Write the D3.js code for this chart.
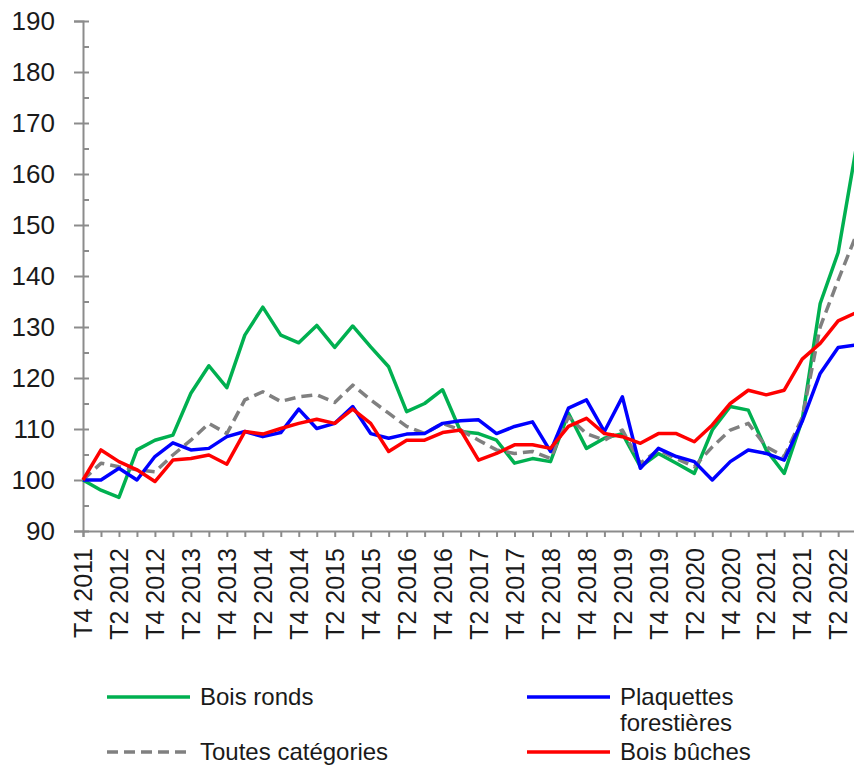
<!DOCTYPE html>
<html>
<head>
<meta charset="utf-8">
<script src="https://cdn.jsdelivr.net/npm/d3@7"></script>
<style>
  body { margin: 0; background: #fff; }
  text { font-family: "Liberation Sans", Arial, sans-serif; fill: #1a1a1a; }
</style>
</head>
<body>
<svg id="chart"></svg>
<script>
// quarters from T4 2011 to T3 2022
let quarters = ["T4 2011",
  "T1 2012", "T2 2012", "T3 2012", "T4 2012",
  "T1 2013", "T2 2013", "T3 2013", "T4 2013",
  "T1 2014", "T2 2014", "T3 2014", "T4 2014",
  "T1 2015", "T2 2015", "T3 2015", "T4 2015",
  "T1 2016", "T2 2016", "T3 2016", "T4 2016",
  "T1 2017", "T2 2017", "T3 2017", "T4 2017",
  "T1 2018", "T2 2018", "T3 2018", "T4 2018",
  "T1 2019", "T2 2019", "T3 2019", "T4 2019",
  "T1 2020", "T2 2020", "T3 2020", "T4 2020",
  "T1 2021", "T2 2021", "T3 2021", "T4 2021",
  "T1 2022", "T2 2022", "T3 2022"];

let boisRonds = [100, 98, 96.6, 105.9, 107.8, 108.8, 117, 122.4, 118.1, 128.4, 133.9, 128.4, 126.9,
  130.3, 126, 130.2, 126.1, 122.2, 113.4, 115, 117.7, 109.5, 109.1, 107.8, 103.3, 104.2, 103.6,
  113.1, 106.2, 108.2, 109.1, 102.6, 105.2, 103.3, 101.3, 109.8, 114.4, 113.7, 105.9, 101.3,
  111.8, 134.6, 144.6, 165];

let toutesCategories = [100, 103.3, 102.6, 102, 101.6, 104.9, 107.8, 111.1, 109.1, 115.7, 117.3,
  115.4, 116.3, 116.7, 115.2, 118.6, 115.7, 113.1, 110.5, 109.1, 111.1, 109.8, 107.8, 105.9,
  105.2, 105.6, 104.2, 112.4, 109.1, 107.8, 109.8, 103.3, 105.9, 104.2, 102.6, 106.5, 109.8,
  111.1, 106.5, 104.6, 112.2, 130, 139.2, 148];

let plaquettes = [100, 100, 102.3, 100, 104.6, 107.3, 105.9, 106.2, 108.5, 109.5, 108.5, 109.3,
  113.9, 110.1, 111.1, 114.4, 109.1, 108.2, 109, 109.1, 111.1, 111.6, 111.8, 109.1, 110.5,
  111.4, 105.6, 114.1, 115.7, 109.5, 116.3, 102.3, 106.2, 104.6, 103.6, 100, 103.6, 105.9,
  105.2, 103.9, 111.5, 120.9, 126, 126.5];

let boisBuches = [100, 105.9, 103.6, 102, 99.7, 103.9, 104.2, 104.9, 103.1, 109.5, 109, 110.1,
  111.1, 111.9, 111.1, 113.9, 111.1, 105.6, 107.8, 107.8, 109.3, 109.8, 103.9, 105.2, 106.9,
  106.9, 106.2, 110.5, 112.1, 109.1, 108.5, 107.2, 109.1, 109.1, 107.5, 110.8, 115, 117.6,
  116.7, 117.6, 123.7, 126.8, 131.2, 132.8];

let yMajor = [90, 100, 110, 120, 130, 140, 150, 160, 170, 180, 190];
let yMinor = [95, 105, 115, 125, 135, 145, 155, 165, 175, 185];

let series = [
  { name: "Bois ronds", values: boisRonds, color: "#00b050", dash: null },
  { name: "Plaquettes forestières", values: plaquettes, color: "#0000ff", dash: null },
  { name: "Toutes catégories", values: toutesCategories, color: "#808080", dash: "11,6" },
  { name: "Bois bûches", values: boisBuches, color: "#ff0000", dash: null }
];

var svgWidth = 854, svgHeight = 766;
var svg = d3.select("#chart")
  .attr("width", svgWidth)
  .attr("height", svgHeight);

var x = d3.scalePoint()
  .domain(quarters)
  .range([83, 83 + 17.98 * (quarters.length - 1)]);

var y = d3.scaleLinear()
  .domain([90, 190])
  .range([531, 21]);

var axisColor = "#8c8c8c";

// y axis: major ticks cross the line, minor ticks on the right
var yAxis = svg.append("g")
  .attr("transform", "translate(83,0)")
  .call(d3.axisLeft(y).tickValues(yMajor).tickSize(9).tickPadding(19));
yAxis.selectAll("text").style("font-size", "26px");

svg.append("g")
  .attr("transform", "translate(83,0)")
  .call(d3.axisRight(y).tickValues(yMajor.concat(yMinor)).tickSize(6).tickFormat(""))
  .select(".domain").remove();

// x axis
var xAxis = svg.append("g")
  .attr("transform", "translate(0,531)")
  .call(d3.axisBottom(x).tickSize(6).tickFormat(function(d, i) {
    return i % 2 === 0 ? d : "";
  }));
xAxis.selectAll("text")
  .style("font-size", "25px")
  .attr("text-anchor", "end")
  .attr("transform", "rotate(-90)")
  .attr("x", -17)
  .attr("y", 0)
  .attr("dy", "0.35em");

svg.selectAll(".domain, .tick line")
  .attr("stroke", axisColor)
  .attr("stroke-width", 2);

var line = d3.line()
  .x(function(d, i) { return x(quarters[i]); })
  .y(function(d) { return y(d); });

// draw order: green, dashed, blue, red on top
let drawOrder = [series[0], series[2], series[1], series[3]];
svg.append("g").selectAll("path")
  .data(drawOrder)
  .enter().append("path")
  .attr("fill", "none")
  .attr("stroke", function(d) { return d.color; })
  .attr("stroke-width", 3.5)
  .attr("stroke-dasharray", function(d) { return d.dash; })
  .attr("stroke-linejoin", "round")
  .attr("d", function(d) { return line(d.values); });

// legend
let legendItems = [
  { s: series[0], x: 107, y: 697, lines: ["Bois ronds"] },
  { s: series[1], x: 527, y: 697, lines: ["Plaquettes", "forestières"] },
  { s: series[2], x: 107, y: 752, lines: ["Toutes catégories"] },
  { s: series[3], x: 527, y: 752, lines: ["Bois bûches"] }
];

var legend = svg.append("g");
legendItems.forEach(function(item) {
  legend.append("line")
    .attr("x1", item.x).attr("x2", item.x + 83)
    .attr("y1", item.y).attr("y2", item.y)
    .attr("stroke", item.s.color)
    .attr("stroke-width", 3.5)
    .attr("stroke-dasharray", item.s.dash);
  var t = legend.append("text")
    .attr("y", item.y)
    .style("font-size", "24px");
  item.lines.forEach(function(l, i) {
    t.append("tspan").attr("x", item.x + 93).attr("dy", i === 0 ? "0.35em" : "26px").text(l);
  });
});
</script>
</body>
</html>
